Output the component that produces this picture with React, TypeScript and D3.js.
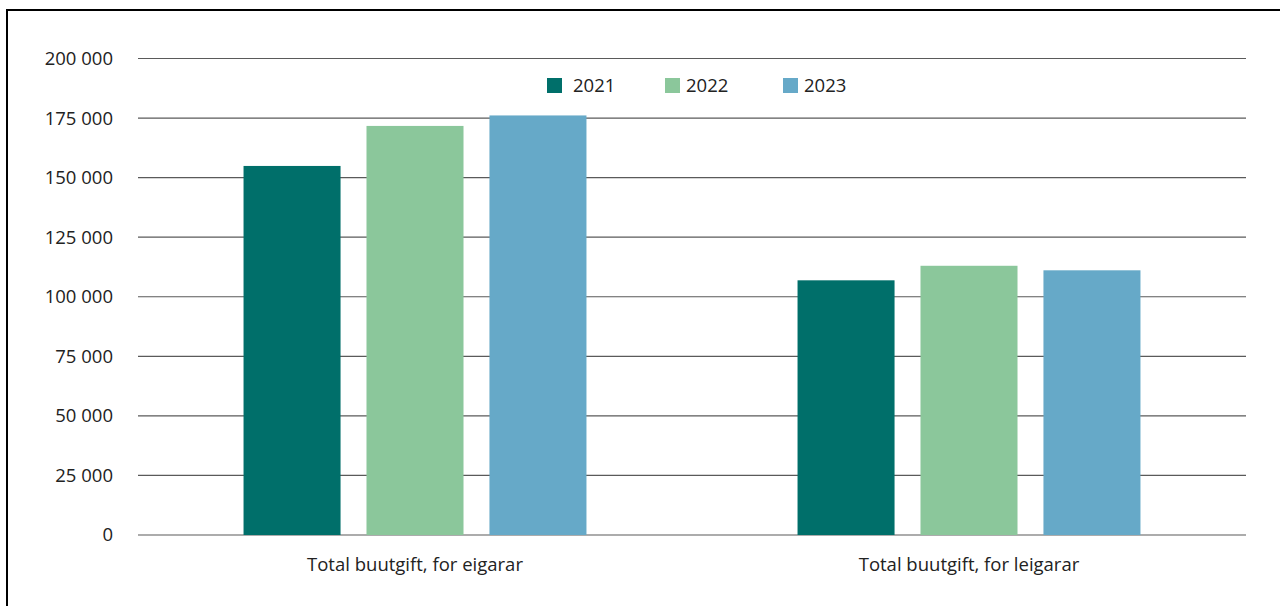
import React from "react";
import * as d3 from "d3";

const categories = ["Total buutgift, for eigarar", "Total buutgift, for leigarar"];
const years = ["2021", "2022", "2023"];
const values2021 = [154900, 106900];
const values2022 = [171700, 113000];
const values2023 = [176100, 111100];
const yTicks = [0, 25000, 50000, 75000, 100000, 125000, 150000, 175000, 200000];
const colors = ["#006f6a", "#8bc79b", "#66a9c8"];

const W = 1280;
const H = 606;
const margin = { left: 138, right: 34, top: 58.5, bottom: 71 };

function fmt(v: number) {
  return d3.format(",")(v).replace(/,/g, " ");
}

export default function App() {
  const series = [values2021, values2022, values2023];
  const x0 = d3
    .scaleBand<string>()
    .domain(categories)
    .range([margin.left, W - margin.right])
    .paddingInner(0.381)
    .paddingOuter(0.1905);
  const x1 = d3
    .scaleBand<string>()
    .domain(years)
    .range([0, x0.bandwidth()])
    .paddingInner(0.211);
  const y = d3
    .scaleLinear()
    .domain([0, 200000])
    .range([H - margin.bottom, margin.top]);
  const font = "'Open Sans', sans-serif";
  const fs = 18.5;
  const legendX = [547, 665, 783];
  const legendTextX = [573, 686, 804];
  return (
    <svg
      width={W}
      height={H}
      style={{ position: "absolute", left: 0, top: 0 }}
      fontFamily={font}
    >
      <rect x={0} y={0} width={W} height={H} fill="#fff" />
      <rect x={7} y={10} width={W + 20} height={H + 20} fill="none" stroke="#000" strokeWidth={2} />
      {yTicks.map((t) => (
        <g key={t}>
          <line
            x1={margin.left}
            x2={W - margin.right}
            y1={y(t)}
            y2={y(t)}
            stroke="#5a5a5a"
            strokeWidth={1.2}
          />
          <text
            x={113}
            y={y(t)}
            dy="0.35em"
            textAnchor="end"
            fontSize={fs}
            fill="#222"
          >
            {fmt(t)}
          </text>
        </g>
      ))}
      {categories.map((c, ci) => (
        <g key={c}>
          {years.map((yr, si) => (
            <rect
              key={yr}
              x={(x0(c) as number) + (x1(yr) as number)}
              y={y(series[si][ci])}
              width={x1.bandwidth()}
              height={y(0) - y(series[si][ci])}
              fill={colors[si]}
            />
          ))}
          <text
            x={(x0(c) as number) + x0.bandwidth() / 2}
            y={571}
            textAnchor="middle"
            fontSize={fs}
            fill="#222"
          >
            {c}
          </text>
        </g>
      ))}
      {years.map((yr, i) => (
        <g key={yr}>
          <rect x={legendX[i]} y={78} width={15} height={15} fill={colors[i]} />
          <text x={legendTextX[i]} y={92} fontSize={fs} fill="#222">
            {yr}
          </text>
        </g>
      ))}
    </svg>
  );
}
